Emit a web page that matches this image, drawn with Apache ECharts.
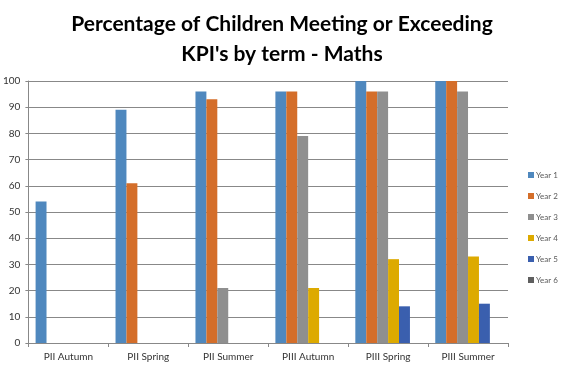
<!DOCTYPE html>
<html><head><meta charset="utf-8">
<script src="https://cdn.jsdelivr.net/npm/echarts@6/dist/echarts.min.js"></script>
<style>html,body{margin:0;padding:0;background:#fff}#c{width:567px;height:368px}</style>
</head><body><div id="c"></div>
<script>
const categories = ['PII Autumn','PII Spring','PII Summer','PIII Autumn','PIII Spring','PIII Summer'];
const seriesNames = ['Year 1','Year 2','Year 3','Year 4','Year 5','Year 6'];
const year1 = [54, 89, 96, 96, 100, 100];
const year2 = [0, 61, 93, 96, 96, 100];
const year3 = [0, 0, 21, 79, 96, 96];
const year4 = [0, 0, 0, 21, 32, 33];
const year5 = [0, 0, 0, 0, 14, 15];
const year6 = [0, 0, 0, 0, 0, 0];
const yTicks = [0,10,20,30,40,50,60,70,80,90,100];
const colors = ['#4F88BE','#D46E2A','#8F8F8F','#DDAA00','#3A5FAE','#5F5F5F'];
const values = [year1, year2, year3, year4, year5, year6];

const chart = echarts.init(document.getElementById('c'));
chart.setOption({
  animation: false,
  color: colors,
  title: {
    text: "Percentage of Children Meeting or Exceeding\nKPI's by term - Maths",
    left: 277, textAlign: 'center', top: 4,
    textStyle: {fontFamily: 'Lato', fontWeight: 'bold', fontSize: 21, color: '#000', lineHeight: 30}
  },
  legend: {
    orient: 'vertical', left: 523, top: 166, itemWidth: 6, itemHeight: 6, itemGap: 13,
    icon: 'rect',
    textStyle: {fontFamily: 'Lato', fontSize: 8, color: '#595959', padding: [0,0,0,-3]},
    data: seriesNames
  },
  grid: {left: 28, right: 59, top: 81, bottom: 25},
  xAxis: {
    type: 'category', data: categories,
    axisLine: {lineStyle: {color: '#888'}},
    axisTick: {show: true, length: 4, lineStyle: {color: '#888'}},
    axisLabel: {fontFamily: 'Lato', fontSize: 10, color: '#333', margin: 9}
  },
  yAxis: {
    type: 'value', min: 0, max: 100, interval: 10,
    axisLine: {show: true, lineStyle: {color: '#888'}},
    axisTick: {show: true, length: 3, lineStyle: {color: '#888'}},
    splitLine: {lineStyle: {color: '#888'}},
    axisLabel: {fontFamily: 'Lato', fontSize: 10, color: '#333', margin: 8,
      formatter: v => yTicks.includes(v) ? String(v) : ''}
  },
  series: seriesNames.map((n, i) => ({
    name: n, type: 'bar', data: values[i], barGap: '0%', barCategoryGap: '18%'
  }))
});
</script></body></html>
